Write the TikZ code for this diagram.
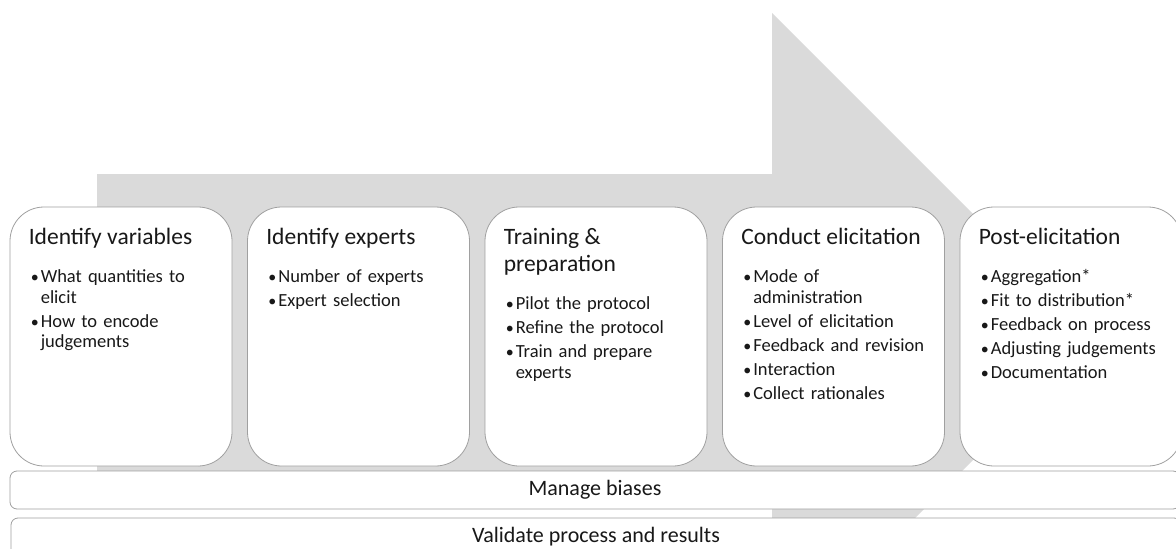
\documentclass[tikz,border=0pt]{standalone}
\usepackage{fontspec}
\setmainfont{Carlito}
\usetikzlibrary{positioning}

\definecolor{arrowgray}{RGB}{218,218,218}
\definecolor{edgegray}{RGB}{160,160,160}
\definecolor{inkgray}{RGB}{24,24,24}

\newcommand{\bitem}{\par\hangindent=10pt\hangafter=1\noindent
  \makebox[10pt][l]{\fontsize{16}{16}\selectfont\textbullet}\strut}

\begin{document}
\begin{tikzpicture}[x=1pt,y=-1pt,
  stage/.style={draw=edgegray,fill=white,line width=0.8pt,rounded corners=34pt,
                minimum width=222pt,minimum height=259pt,inner sep=0pt},
  band/.style={draw=edgegray,fill=white,line width=0.8pt,rounded corners=7pt,
               minimum width=1170pt,minimum height=38pt,inner sep=0pt,
               text=inkgray,font=\fontsize{22}{26}\selectfont},
  head/.style={anchor=base west,inner sep=0pt,align=left,text=inkgray,
               font=\fontsize{23.5}{27}\selectfont},
  list/.style={inner sep=0pt,text width=200pt,text=inkgray,
               font=\fontsize{18.5}{20.5}\selectfont,
               execute at begin node=\setlength{\parskip}{3.5pt}}]
  \useasboundingbox (0,0) rectangle (1176,549);
  \clip (0,0) rectangle (1176,549);

  \fill[arrowgray] (97,174) -- (772,174) -- (772,13) -- (1096,337)
                   -- (772,661) -- (772,500) -- (97,500) -- cycle;

  \node (s1) at (  121,336.5) [stage] {};
  \node (s2) at (358.5,336.5) [stage] {};
  \node (s3) at (  596,336.5) [stage] {};
  \node (s4) at (833.5,336.5) [stage] {};
  \node (s5) at ( 1071,336.5) [stage] {};

  \node (h1) at ([xshift=19pt,yshift=-38pt]s1.north west) [head] {Identify variables\strut};
  \node (h2) at ([xshift=19pt,yshift=-38pt]s2.north west) [head] {Identify experts\strut};
  \node (h3) at ([xshift=19pt,yshift=-65pt]s3.north west) [head] {Training \&\strut\\preparation\strut};
  \node (h4) at ([xshift=19pt,yshift=-38pt]s4.north west) [head] {Conduct elicitation\strut};
  \node (h5) at ([xshift=19pt,yshift=-38pt]s5.north west) [head] {Post-elicitation\strut};

  \node (l1) [list,below right=5.5pt and 2pt of h1.south west] {%
    \bitem What quantities to\newline elicit
    \bitem How to encode\newline judgements\par};
  \node (l2) [list,below right=5.5pt and 2pt of h2.south west] {%
    \bitem Number of experts
    \bitem Expert selection\par};
  \node (l3) [list,below right=5.5pt and 2pt of h3.south west] {%
    \bitem Pilot the protocol
    \bitem Refine the protocol
    \bitem Train and prepare\newline experts\par};
  \node (l4) [list,below right=5.5pt and 2pt of h4.south west] {%
    \bitem Mode of\newline administration
    \bitem Level of elicitation
    \bitem Feedback and revision
    \bitem Interaction
    \bitem Collect rationales\par};
  \node (l5) [list,below right=5.5pt and 2pt of h5.south west] {%
    \bitem Aggregation*
    \bitem Fit to distribution*
    \bitem Feedback on process
    \bitem Adjusting judgements
    \bitem Documentation\par};

  \node (mb) at (595,490) [band] {Manage biases};
  \node (vp) at (596,537) [band] {Validate process and results};
\end{tikzpicture}
\end{document}
